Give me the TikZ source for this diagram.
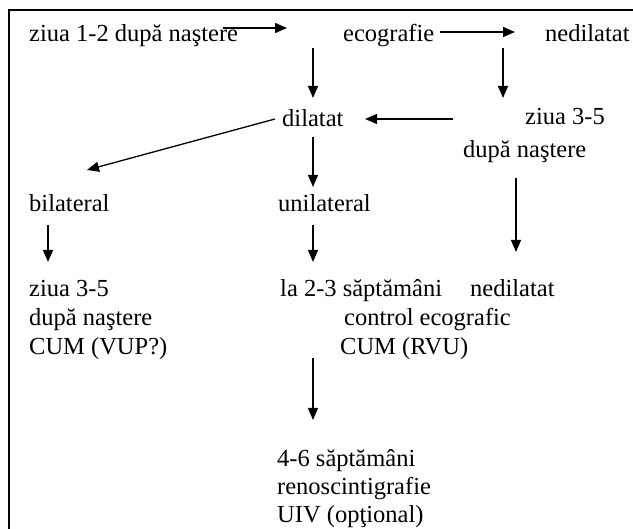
\documentclass[tikz,border=0pt]{standalone}
\usepackage{fontspec}
\setmainfont{Liberation Serif}
\usetikzlibrary{arrows.meta}
\begin{document}
\begin{tikzpicture}[x=1pt,y=-1pt,
  lbl/.style={anchor=base west,inner sep=0pt,font=\fontsize{24.5}{29}\selectfont},
  conn/.style={line width=1.3pt,-{Triangle[length=12pt,width=10pt]}},
  framel/.style={line width=1.8pt}]
\useasboundingbox (0,0) rectangle (633,529);
% frame (only top and left edges visible)
\coordinate (fTR) at (640,10);
\coordinate (fTL) at (9,10);
\coordinate (fBL) at (9,540);
\draw[framel] (fTR) -- (fTL) -- (fBL);
% texts
\node[lbl] (t1) at (29,42) {ziua 1-2 după naştere};
\node[lbl] (eco) at (343,42) {ecografie};
\node[lbl] (ned1) at (545,42) {nedilatat};
\node[lbl] (dil) at (282,127) {dilatat};
\node[lbl] (z35a) at (525,125) {ziua 3-5};
\node[lbl] (dn1) at (463,158) {după naştere};
\node[lbl] (bil) at (29,212) {bilateral};
\node[lbl] (uni) at (278,212) {unilateral};
\node[lbl] (z35b) at (29,297) {ziua 3-5};
\node[lbl] (dn2) at (29,326) {după naştere};
\node[lbl] (cumv) at (29,355) {CUM (VUP?)};
\node[lbl] (la23) at (280,297) {la 2-3 săptămâni};
\node[lbl] (ned2) at (470,297) {nedilatat};
\node[lbl] (ctrl) at (344,326) {control ecografic};
\node[lbl] (cumr) at (340,355) {CUM (RVU)};
\node[lbl] (w46) at (277,467) {4-6 săptămâni};
\node[lbl] (reno) at (277,495) {renoscintigrafie};
\node[lbl] (uiv) at (277,523) {UIV (opţional)};
% connector end points
\coordinate (a1s) at (223,28);  \coordinate (a1e) at (287,28);
\coordinate (a2s) at (440,32);  \coordinate (a2e) at (515,32);
\coordinate (d1s) at (313,48);  \coordinate (d1e) at (313,98);
\coordinate (d2s) at (503,48);  \coordinate (d2e) at (503,98);
\coordinate (l1s) at (453,119); \coordinate (l1e) at (365,119);
\coordinate (g1s) at (275,119); \coordinate (g1e) at (87,170);
\coordinate (d3s) at (313,137); \coordinate (d3e) at (313,187);
\coordinate (d4s) at (516,178); \coordinate (d4e) at (516,252);
\coordinate (d5s) at (48,225);  \coordinate (d5e) at (48,262);
\coordinate (d6s) at (313,225); \coordinate (d6e) at (313,262);
\coordinate (d7s) at (313,358); \coordinate (d7e) at (313,420);
% connectors
\draw[conn] (a1s) -- (a1e);
\draw[conn] (a2s) -- (a2e);
\draw[conn] (d1s) -- (d1e);
\draw[conn] (d2s) -- (d2e);
\draw[conn] (l1s) -- (l1e);
\draw[conn] (g1s) -- (g1e);
\draw[conn] (d3s) -- (d3e);
\draw[conn] (d4s) -- (d4e);
\draw[conn] (d5s) -- (d5e);
\draw[conn] (d6s) -- (d6e);
\draw[conn] (d7s) -- (d7e);
\end{tikzpicture}
\end{document}
